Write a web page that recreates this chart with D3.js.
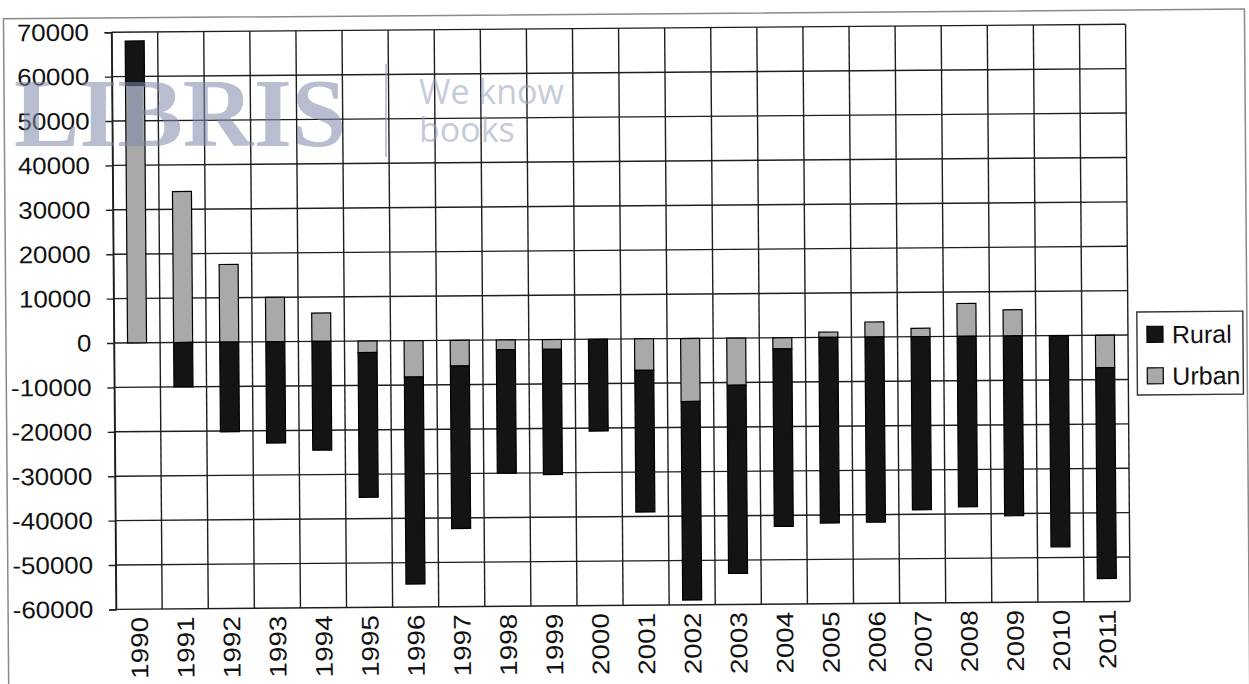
<!DOCTYPE html>
<html>
<head>
<meta charset="utf-8">
<script src="https://cdn.jsdelivr.net/npm/d3@7"></script>
<style>
  html, body { margin: 0; padding: 0; background: #fff; }
  #chart-container { width: 1249px; height: 684px; overflow: hidden; }
  text { font-family: "Liberation Sans", Arial, sans-serif; }
</style>
</head>
<body>
<div id="chart-container"></div>
<script>
const years = ['1990', '1991', '1992', '1993', '1994', '1995', '1996', '1997', '1998', '1999', '2000',
  '2001', '2002', '2003', '2004', '2005', '2006', '2007', '2008', '2009', '2010', '2011']
const urban = [58000, 34000, 17500, 10000, 6400, -2600, -8200, -5800, -2200, -2200, 0,
  -7100, -14200, -10600, -2500, 1200, 3400, 1900, 7400, 5900, 0, -7300]
const rural = [10000, -10000, -20200, -22800, -24500, -32600, -46600, -36600, -27800, -28200, -20700,
  -31900, -44700, -42400, -40000, -41800, -41700, -39000, -38400, -40500, -47600, -47500]
const yTicks = [70000, 60000, 50000, 40000, 30000, 20000, 10000, 0, -10000, -20000, -30000, -40000, -50000, -60000]
const seriesNames = ['Rural', 'Urban']

const colors = { Rural: '#141414', Urban: '#a9a9a9' }

const plot = { left: 114, right: 1128, top: 32.2, bottom: 609.4 }

const svg = d3.select('#chart-container').append('svg')
  .attr('width', 1249)
  .attr('height', 684)

// the scanned chart is slightly tilted
const g = svg.append('g')
  .attr('transform', 'rotate(-0.45, 114, 343)')

// outer chart frame
g.append('rect')
  .attr('x', 6)
  .attr('y', 18)
  .attr('width', 1241)
  .attr('height', 700)
  .attr('fill', 'none')
  .attr('stroke', '#8a8a8a')
  .attr('stroke-width', 1.5)

const x = d3.scaleBand()
  .domain(years)
  .range([plot.left, plot.right])
  .padding(0)

const y = d3.scaleLinear()
  .domain([-60000, 70000])
  .range([plot.bottom, plot.top])

// gridlines
g.append('g')
  .selectAll('line')
  .data(yTicks)
  .join('line')
  .attr('x1', plot.left)
  .attr('x2', plot.right)
  .attr('y1', d => y(d))
  .attr('y2', d => y(d))
  .attr('stroke', '#1e1e1e')
  .attr('stroke-width', 1.4)

g.append('g')
  .selectAll('line')
  .data(years.concat(['end']))
  .join('line')
  .attr('x1', d => d === 'end' ? plot.right : x(d))
  .attr('x2', d => d === 'end' ? plot.right : x(d))
  .attr('y1', plot.top)
  .attr('y2', plot.bottom)
  .attr('stroke', '#1e1e1e')
  .attr('stroke-width', 1.4)

// stacked bars, urban first then rural
const rows = years.map((year, i) => ({ year, Urban: urban[i], Rural: rural[i] }))
const stacked = d3.stack()
  .keys(['Urban', 'Rural'])
  .offset(d3.stackOffsetDiverging)(rows)

const barWidth = 19
g.append('g')
  .selectAll('g')
  .data(stacked)
  .join('g')
  .attr('fill', d => colors[d.key])
  .selectAll('rect')
  .data(d => d.filter(p => p[1] !== p[0]))
  .join('rect')
  .attr('x', d => x(d.data.year) + (x.bandwidth() - barWidth) / 2)
  .attr('width', barWidth)
  .attr('y', d => y(Math.max(d[0], d[1])))
  .attr('height', d => Math.abs(y(d[0]) - y(d[1])))
  .attr('stroke', '#000')
  .attr('stroke-width', 1.2)

// y axis
const yAxis = d3.axisLeft(y)
  .tickValues(yTicks)
  .tickSize(7)
  .tickPadding(14)
  .tickFormat(d => String(d))

const yg = g.append('g')
  .attr('transform', 'translate(' + plot.left + ',0)')
  .call(yAxis)
yg.select('.domain').attr('stroke', '#1e1e1e').attr('stroke-width', 1.4)
yg.selectAll('.tick line').attr('stroke', '#1e1e1e').attr('stroke-width', 1.4)
yg.selectAll('.tick text')
  .attr('fill', '#111')
  .style('font-size', '24px')
  .attr('transform', 'scale(1.08,1)')

// x labels, rotated
g.append('g')
  .selectAll('text')
  .data(years)
  .join('text')
  .attr('transform', d => 'translate(' + (x(d) + x.bandwidth() / 2) + ',617) rotate(-90) scale(1.16,1)')
  .attr('text-anchor', 'end')
  .attr('dy', '0.36em')
  .attr('fill', '#111')
  .style('font-size', '24px')
  .text(d => d)

// legend
const legend = g.append('g')
legend.append('rect')
  .attr('x', 1137)
  .attr('y', 320)
  .attr('width', 106)
  .attr('height', 83)
  .attr('fill', '#fff')
  .attr('stroke', '#333')
  .attr('stroke-width', 1.4)

const items = legend.selectAll('g.item')
  .data(seriesNames)
  .join('g')
  .attr('class', 'item')
  .attr('transform', (d, i) => 'translate(1147,' + (342.5 + i * 41.5) + ')')
items.append('rect')
  .attr('x', 0)
  .attr('y', -8)
  .attr('width', 16)
  .attr('height', 16)
  .attr('fill', d => colors[d])
  .attr('stroke', '#000')
  .attr('stroke-width', 1.2)
items.append('text')
  .attr('x', 25)
  .attr('y', 9)
  .attr('fill', '#111')
  .style('font-size', '25px')
  .text(d => d)

// watermark on the scan
const wm = svg.append('g').attr('opacity', 0.55)
wm.append('text')
  .attr('x', 14)
  .attr('y', 146)
  .attr('fill', '#7f8aa8')
  .style('font-family', '"Liberation Serif", serif')
  .style('font-weight', 'bold')
  .style('font-size', '98px')
  .text('LIBRIS')
wm.append('line')
  .attr('x1', 386)
  .attr('x2', 386)
  .attr('y1', 64)
  .attr('y2', 157)
  .attr('stroke', '#8f99b4')
  .attr('stroke-width', 2)
wm.append('text')
  .attr('x', 419)
  .attr('y', 104)
  .attr('fill', '#98a2bc')
  .style('font-family', '"Open Sans", sans-serif')
  .style('font-size', '34px')
  .text('We know')
wm.append('text')
  .attr('x', 419)
  .attr('y', 142)
  .attr('fill', '#98a2bc')
  .style('font-family', '"Open Sans", sans-serif')
  .style('font-size', '34px')
  .text('books')
</script>
</body>
</html>
